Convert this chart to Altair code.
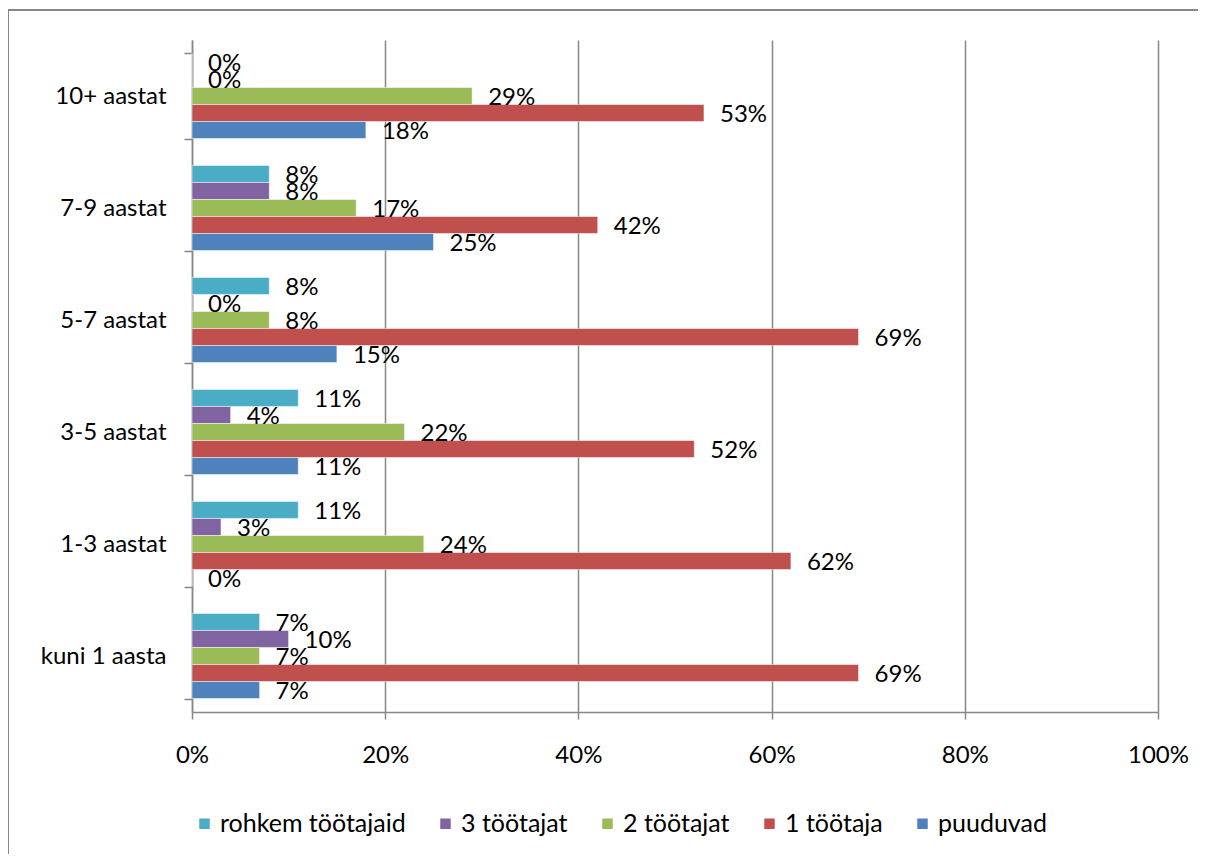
import altair as alt
import pandas as pd

categories = ["10+ aastat", "7-9 aastat", "5-7 aastat", "3-5 aastat", "1-3 aastat", "kuni 1 aasta"]
series = ["rohkem töötajaid", "3 töötajat", "2 töötajat", "1 töötaja", "puuduvad"]
colors = ["#4BACC6", "#8064A2", "#9BBB59", "#C0504D", "#4F81BD"]

rohkem = [0, 8, 8, 11, 11, 7]
kolm = [0, 8, 0, 4, 3, 10]
kaks = [29, 17, 8, 22, 24, 7]
uks = [53, 42, 69, 52, 62, 69]
puuduvad = [18, 25, 15, 11, 0, 7]
x_ticks = [0, 20, 40, 60, 80, 100]

values = [rohkem, kolm, kaks, uks, puuduvad]
rows = []
for s, vals in zip(series, values):
    for c, v in zip(categories, vals):
        rows.append({"cat": c, "ser": s, "v": v})
df = pd.DataFrame(rows)

W, H = 966, 672
GRID = "#878787"
FONT = "Lato"

y = alt.Y("cat:N", sort=categories,
          scale=alt.Scale(paddingInner=0.24, paddingOuter=0.12),
          axis=alt.Axis(title=None, tickBand="extent", ticks=True, tickSize=8,
                        labelPadding=18, labelFontSize=24, labelFont=FONT,
                        labelColor="black", domainColor=GRID, tickColor=GRID,
                        domainWidth=1.5, tickWidth=1.5, grid=False))
yoff = alt.YOffset("ser:N", sort=series, scale=alt.Scale(paddingInner=0, paddingOuter=0))
x = alt.X("v:Q", scale=alt.Scale(domain=[0, 100], nice=False),
          axis=alt.Axis(title=None, values=x_ticks, labelExpr="datum.value + '%'",
                        labelFlush=False,
                        grid=True, gridColor=GRID, gridWidth=1.5, tickSize=7,
                        tickColor=GRID, tickWidth=1.5, domainColor=GRID, domainWidth=1.5,
                        labelPadding=24, labelFontSize=24, labelFont=FONT, labelColor="black"))
color = alt.Color("ser:N", sort=series,
                  scale=alt.Scale(domain=series, range=colors),
                  legend=alt.Legend(title=None, orient="none", legendX=0, legendY=771,
                                    direction="horizontal", symbolType="square",
                                    symbolSize=110, symbolStrokeWidth=0,
                                    labelFontSize=25, labelFont=FONT, labelColor="black",
                                    labelOffset=3, columnPadding=27, labelLimit=400,
                                    padding=0))

bars = alt.Chart(df).mark_bar(stroke="white", strokeWidth=0.5).encode(
    y=y, yOffset=yoff, x=x, color=color)

labels = alt.Chart(df).transform_calculate(lab="datum.v + '%'").mark_text(
    align="left", baseline="middle", dx=16, dy=2, fontSize=24, font=FONT, color="black"
).encode(y=y, yOffset=yoff, x="v:Q", text="lab:N")

one = pd.DataFrame({"a": [0]})
border_left = alt.Chart(one).mark_rule(color=GRID, strokeWidth=2).encode(
    x=alt.value(-184), y=alt.value(-30), y2=alt.value(H + 200))
border_top = alt.Chart(one).mark_rule(color=GRID, strokeWidth=2).encode(
    x=alt.value(-184), x2=alt.value(W + 200), y=alt.value(-30))

chart = alt.layer(bars, labels, border_left, border_top).properties(
    width=W, height=H,
    autosize=alt.AutoSizeParams(type="none"),
    padding={"left": 184, "top": 32, "right": 40, "bottom": 142},
    background="white",
).configure_view(stroke=None)

chart.save("out.html", embed_options={"renderer": "svg", "actions": False})
